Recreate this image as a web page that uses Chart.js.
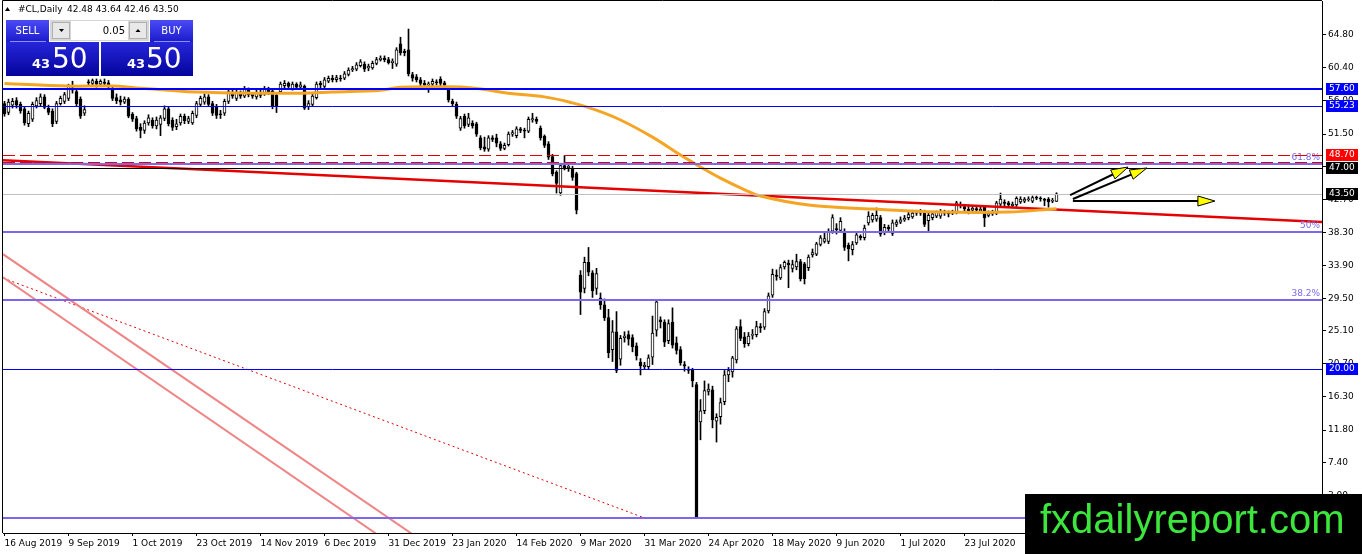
<!DOCTYPE html>
<html>
<head>
<meta charset="utf-8">
<title>#CL Daily</title>
<script src="https://cdn.jsdelivr.net/npm/chart.js@4.4.1/dist/chart.umd.min.js"></script>
<style>
  html, body { margin: 0; padding: 0; background: #fff; }
  #wrap { position: relative; width: 1362px; height: 554px; overflow: hidden; }
  canvas { display: block; }
</style>
</head>
<body>
<div id="wrap"><canvas id="chart" width="1362" height="554"></canvas></div>
<script>
// date labels, one every 16 bars
const dateLabels = ['16 Aug 2019', '9 Sep 2019', '1 Oct 2019', '23 Oct 2019', '14 Nov 2019', '6 Dec 2019',
  '31 Dec 2019', '23 Jan 2020', '14 Feb 2020', '9 Mar 2020', '31 Mar 2020', '24 Apr 2020', '18 May 2020',
  '9 Jun 2020', '1 Jul 2020', '23 Jul 2020', '14 Aug 2020'];

// price scale labels
const yTickValues = [64.80, 60.40, 56.00, 51.50, 47.10, 42.70, 38.30, 33.90, 29.50, 25.10, 20.70, 16.30, 11.80, 7.40, 3.00];

// daily candles
const opens = [
  55.6,54.4,55.4,56.0,55.5,54.9,52.9,53.5,55.3,55.6,56.5,55.0,54.6,53.2,55.6,55.9,
  56.3,57.7,57.2,56.2,54.3,58.5,58.3,58.6,58.2,58.5,58.4,57.5,56.4,56.1,55.8,56.2,
  54.2,53.6,52.4,52.0,53.0,53.4,52.6,52.8,53.6,54.9,53.4,52.5,53.0,53.9,53.2,53.0,
  54.0,55.5,55.8,56.5,55.6,55.2,54.2,54.3,55.9,57.0,56.3,57.0,56.6,57.4,56.9,56.5,
  57.0,56.9,57.5,57.3,56.7,57.2,58.0,58.3,57.6,58.2,57.8,57.9,55.2,55.5,56.4,58.3,
  57.9,58.6,59.0,58.8,59.0,59.0,59.5,60.1,60.2,60.7,60.9,60.4,60.4,61.0,61.5,61.7,
  61.5,61.1,60.9,63.6,62.6,62.8,59.5,59.2,58.8,58.3,58.1,58.2,58.5,58.9,58.4,57.4,
  55.9,55.5,52.3,53.9,52.8,53.0,52.9,51.0,49.8,49.5,51.0,51.0,50.2,49.6,50.1,51.5,
  51.3,52.2,52.0,51.9,53.4,53.5,52.3,51.2,50.2,48.5,46.4,43.6,47.3,47.0,46.9,46.2,
  32.6,30.8,34.3,32.9,30.8,29.5,28.6,26.9,22.6,25.0,21.3,24.2,24.6,24.2,23.1,20.9,
  20.3,20.3,21.6,25.2,26.6,26.3,23.8,26.3,23.5,22.6,20.6,20.0,19.9,17.9,12.9,14.4,
  17.0,17.2,13.0,13.6,15.6,19.2,19.6,21.2,25.7,24.3,23.4,24.5,24.6,25.7,25.6,27.8,
  29.9,32.6,32.2,33.7,34.2,33.5,33.7,34.4,34.1,33.6,35.3,35.4,36.7,37.1,37.1,38.5,
  38.8,38.6,38.4,36.6,36.0,36.9,37.8,37.6,39.6,40.0,40.1,40.3,38.3,39.0,38.2,39.4,
  39.7,40.0,40.3,40.4,40.9,41.0,41.0,39.9,40.3,40.5,40.5,41.0,40.9,40.9,41.0,42.1,
  41.8,41.4,41.3,41.5,41.2,41.7,40.6,40.8,40.9,42.1,42.4,42.3,41.9,42.0,42.4,42.5,
  42.7,42.5,43.0,42.9,42.8,42.8,42.5,42.48
];
const highs = [
  55.9,56.2,56.3,56.4,55.8,55.1,54.6,55.8,56.4,56.9,56.8,55.4,54.9,55.9,56.6,57.1,
  58.2,58.6,57.5,56.5,55.3,58.8,58.9,58.9,58.8,58.9,58.7,57.8,56.9,56.6,56.5,56.4,
  54.4,53.9,52.9,53.3,54.1,53.7,53.8,54.0,55.3,55.2,53.7,53.5,54.2,54.2,53.9,54.6,
  55.9,56.6,56.9,56.8,55.9,55.5,54.7,56.2,57.5,57.4,57.4,57.3,57.9,57.7,57.1,57.4,
  57.5,57.9,57.8,57.5,57.0,58.5,58.7,58.5,58.5,58.4,58.5,58.1,56.0,56.9,58.5,58.6,
  59.1,59.3,59.4,59.4,59.4,59.9,60.4,60.6,61.1,61.5,61.2,60.9,61.3,61.8,62.0,62.0,
  61.8,61.6,63.1,64.5,62.9,65.6,59.8,59.5,59.1,58.7,58.5,58.9,58.8,59.2,58.6,57.6,
  56.2,55.8,53.9,54.2,54.3,53.3,53.1,51.3,51.1,51.3,51.3,51.5,50.5,50.3,51.8,52.0,
  52.5,52.4,52.3,53.8,54.3,53.8,52.6,51.4,50.5,48.8,46.6,47.6,48.6,47.6,47.2,46.4,
  33.2,35.0,36.3,33.2,33.5,30.2,29.4,28.0,26.5,27.7,24.5,25.0,25.1,24.6,23.5,21.4,
  20.9,21.9,27.1,29.2,27.0,26.6,26.6,28.2,24.3,23.0,21.0,20.3,20.1,18.2,15.9,18.4,
  18.0,17.7,14.0,16.1,19.8,20.2,21.7,25.7,26.6,24.9,24.9,25.3,26.4,26.1,28.1,30.2,
  33.4,33.3,34.0,34.5,34.6,34.6,35.4,34.7,34.3,35.3,36.1,37.0,37.9,38.3,38.8,40.7,
  39.5,40.3,38.8,36.9,37.1,38.3,38.0,39.3,41.1,40.9,41.6,40.6,39.4,39.3,40.0,40.0,
  40.4,40.6,41.0,41.3,41.3,41.4,41.3,40.9,41.0,41.2,41.4,41.3,41.2,41.3,42.5,42.4,
  42.1,41.8,41.9,41.9,41.7,41.9,41.2,41.3,42.5,43.6,42.7,42.5,42.4,43.1,43.1,43.0,
  43.1,43.2,43.2,43.1,42.9,43.0,42.9,43.64
];
const lows = [
  53.9,54.1,55.0,55.0,54.3,52.7,52.5,53.2,55.0,55.3,54.9,54.1,52.5,52.9,55.4,55.6,
  56.0,57.0,55.3,53.6,54.0,58.0,57.9,57.8,57.9,58.0,57.6,56.0,55.6,55.4,55.6,53.7,
  53.2,51.9,51.0,51.6,52.7,52.3,52.2,51.3,53.3,52.6,52.0,52.1,52.7,52.9,52.9,52.8,
  53.7,55.2,55.5,55.2,54.0,53.6,53.6,54.0,55.6,56.3,56.0,56.3,56.4,56.5,56.3,56.2,
  56.4,56.7,56.8,54.9,54.4,57.0,57.7,57.6,57.4,57.5,57.6,54.8,54.8,55.3,56.2,57.7,
  57.7,58.4,58.5,58.5,58.6,58.8,59.3,59.9,60.0,60.5,59.9,60.0,60.2,60.8,61.3,61.2,
  60.9,60.3,60.6,62.1,62.0,59.3,58.6,58.5,58.0,57.8,57.1,57.9,58.1,58.0,57.8,55.8,
  55.3,53.6,52.0,52.3,52.5,52.3,51.2,49.4,49.2,49.2,50.5,49.8,49.3,49.4,49.9,51.2,
  51.0,51.7,51.0,51.7,53.1,52.9,50.7,49.7,48.1,45.9,43.6,43.3,46.7,46.5,45.3,40.8,
  27.3,30.2,32.5,29.6,30.0,28.0,26.5,21.5,21.0,19.5,20.5,23.6,23.2,22.3,21.2,19.2,
  19.9,19.9,20.6,24.4,25.5,23.0,23.4,22.8,22.0,20.5,19.7,19.4,17.6,0.0,10.5,14.0,
  16.5,12.1,10.2,12.6,15.2,18.3,18.9,20.8,23.8,22.9,23.1,24.0,24.3,24.9,25.3,27.5,
  29.6,31.9,32.0,33.4,30.9,33.0,33.3,31.8,31.4,33.2,35.0,35.2,36.5,36.9,36.8,38.2,
  38.1,38.3,35.9,34.5,35.3,36.7,37.3,37.3,39.3,39.7,39.8,37.8,38.0,38.4,37.9,39.1,
  39.5,39.8,40.0,40.2,40.6,40.6,39.1,38.5,40.0,40.3,40.2,40.6,40.4,40.7,40.8,41.6,
  41.2,40.8,40.9,41.0,41.0,39.1,40.4,40.6,40.7,41.9,41.9,41.7,41.6,41.8,42.2,42.3,
  42.5,42.3,42.7,42.5,41.9,41.7,42.3,42.46
];
const closes = [
  54.2,55.8,55.9,55.4,54.6,53.0,54.3,55.5,56.0,56.5,55.1,54.4,52.9,55.6,56.3,56.8,
  57.9,57.4,55.6,53.9,54.8,58.4,58.7,58.2,58.6,58.3,57.9,56.3,56.0,55.8,56.2,53.9,
  53.5,52.2,52.0,53.0,53.7,52.6,53.4,53.7,54.9,52.9,52.4,52.9,53.9,53.3,53.6,54.3,
  55.6,56.3,56.5,55.5,54.3,54.0,54.1,55.9,57.2,56.6,57.1,56.6,57.6,56.8,56.6,57.1,
  56.7,57.6,57.1,55.2,55.2,58.2,58.3,57.9,58.2,57.8,58.1,55.0,55.6,56.6,58.2,58.1,
  58.8,59.0,58.8,59.1,58.9,59.6,60.1,60.3,60.8,61.2,60.2,60.6,61.0,61.5,61.7,61.5,
  61.1,61.3,62.8,62.4,62.4,59.6,59.0,58.8,58.3,58.1,58.2,58.6,58.4,58.3,58.1,56.1,
  55.6,53.9,53.6,52.6,53.7,52.6,51.5,49.7,49.5,51.0,50.8,50.3,49.6,50.0,51.5,51.7,
  52.2,52.0,51.9,53.5,53.6,53.2,51.0,50.0,48.4,46.2,44.9,47.3,47.0,47.2,45.7,41.3,
  30.3,34.3,33.0,30.5,32.8,28.6,26.9,22.2,25.0,19.8,24.1,24.4,24.0,23.0,21.8,20.4,
  20.5,21.5,24.8,29.0,26.3,23.6,26.1,23.2,22.5,20.8,20.4,19.8,18.4,0.1,14.4,17.1,
  17.3,13.2,13.5,15.5,19.2,19.8,21.5,25.4,24.1,23.4,24.4,24.6,25.7,25.5,27.7,29.8,
  32.7,32.4,33.6,34.3,34.0,34.0,34.4,32.1,32.1,35.0,35.6,36.8,37.6,37.5,38.4,40.3,
  38.7,39.8,36.3,36.1,36.7,38.0,37.6,38.9,40.5,40.6,40.6,38.1,39.0,38.8,39.6,39.7,
  40.0,40.2,40.7,40.9,41.0,40.9,39.4,40.6,40.8,41.0,41.0,40.9,40.8,41.1,42.3,41.9,
  41.5,41.2,41.6,41.3,41.4,40.3,40.9,41.0,42.3,42.8,42.2,42.0,42.1,42.9,42.8,42.8,
  42.8,43.0,42.9,42.8,42.6,42.4,42.6,43.50
];

// moving average (bar index, price)
const maIdx = [0, 16, 27, 33, 41, 48, 62, 74, 82, 94, 99, 109, 117, 126, 135, 142, 147, 154, 162, 169, 174, 179, 184, 189, 201, 217, 234, 251, 263];
const maVal = [58.3, 57.95, 57.95, 57.7, 57.4, 57.15, 57.0, 57.0, 57.15, 57.4, 57.8, 57.85, 57.7, 57.0, 56.5, 55.7, 54.9, 53.4, 51.1, 48.7, 47.1, 45.6, 44.3, 43.2, 42.0, 41.45, 41.05, 41.05, 41.5];

// drawn objects: trend lines as [bar index, price] end points
const trendRed = [[-0.375, 48.0], [329.375, 39.7]];
const pinkUpper = [[-0.375, 35.4], [104.0, -2.9]];
const pinkLower = [[-0.375, 32.3], [95.1, -2.9]];
const dottedRed = [[-0.375, 32.2], [160.1, 0.0]];
const arrowFrom = [[266.4, 43.33], [267.1, 42.8], [267.1, 42.53]];
const arrowTo = [[280.9, 47.09], [285.6, 46.96], [302.6, 42.53]];

// horizontal levels
const levelPrices = [57.60, 55.23, 48.70, 47.76, 47.00, 43.50, 20.00];
const fibPrices = [47.43, 38.37, 29.31, 0.0];
const fibNames = ['61.8%', '50%', '38.2%', '0%'];
const tagPrices = [57.60, 55.23, 48.70, 47.00, 43.50, 20.00];

const levelStyles = [
  { color: '#0000ff', width: 2 },
  { color: '#0000ff', width: 1 },
  { color: '#e00000', width: 1, dash: [12, 5] },
  { color: '#e00000', width: 1, dash: [12, 5] },
  { color: '#000000', width: 1 },
  { color: '#c0c0c0', width: 1 },
  { color: '#0000ff', width: 1 }
];
const tagColors = ['#0000ff', '#0000ff', '#ff0000', '#000000', '#000000', '#0000ff'];

const FONT = '"DejaVu Sans", Tahoma, sans-serif';
Chart.defaults.font.family = FONT;
Chart.defaults.font.size = 9;
Chart.defaults.color = '#000';

const toPts = arr => arr.map(p => ({ x: p[0], y: p[1] }));
const last = closes.length - 1;

function hLine(ctx, a, py, w) {
  const yy = w % 2 === 1 ? Math.round(py) + 0.5 : Math.round(py);
  ctx.beginPath();
  ctx.moveTo(a.left, yy);
  ctx.lineTo(a.right, yy);
  ctx.stroke();
}

function grad(ctx, y0, y1, c0, c1) {
  const g = ctx.createLinearGradient(0, y0, 0, y1);
  g.addColorStop(0, c0);
  g.addColorStop(1, c1);
  return g;
}

function tri(ctx, pts, fill, stroke) {
  ctx.beginPath();
  ctx.moveTo(pts[0][0], pts[0][1]);
  ctx.lineTo(pts[1][0], pts[1][1]);
  ctx.lineTo(pts[2][0], pts[2][1]);
  ctx.closePath();
  ctx.fillStyle = fill;
  ctx.fill();
  if (stroke) { ctx.strokeStyle = stroke; ctx.lineWidth = 1; ctx.stroke(); }
}

// keep the plot area edge to edge: no extra room for half tick labels
function noPad(s) {
  s.paddingTop = 0;
  s.paddingBottom = 0;
  s.paddingLeft = 0;
  s.paddingRight = 0;
}

const overlay = {
  id: 'overlay',
  afterDatasetsDraw(chart) {
    const { ctx, chartArea: a, scales: { x, y } } = chart;
    ctx.save();
    ctx.beginPath();
    ctx.rect(a.left, a.top, a.right - a.left, a.bottom - a.top);
    ctx.clip();

    // fibonacci levels
    fibPrices.forEach((p, k) => {
      const py = y.getPixelForValue(p);
      ctx.strokeStyle = '#7b68ee';
      ctx.lineWidth = 2;
      ctx.setLineDash([]);
      hLine(ctx, a, py, 2);
      ctx.fillStyle = '#7b68ee';
      ctx.font = '9px ' + FONT;
      ctx.textAlign = 'right';
      ctx.textBaseline = 'bottom';
      ctx.fillText(fibNames[k], a.right - 2, Math.round(py) - 2);
    });

    // horizontal lines
    levelPrices.forEach((p, k) => {
      const st = levelStyles[k];
      ctx.strokeStyle = st.color;
      ctx.lineWidth = st.width;
      ctx.setLineDash(st.dash || []);
      hLine(ctx, a, y.getPixelForValue(p), st.width);
    });
    ctx.setLineDash([]);

    // arrows
    arrowFrom.forEach((f, k) => {
      const t = arrowTo[k];
      const x0 = x.getPixelForValue(f[0]), y0 = y.getPixelForValue(f[1]);
      const x1 = x.getPixelForValue(t[0]), y1 = y.getPixelForValue(t[1]);
      const ang = Math.atan2(y1 - y0, x1 - x0);
      ctx.strokeStyle = '#000';
      ctx.lineWidth = 2;
      ctx.beginPath();
      ctx.moveTo(x0, y0);
      ctx.lineTo(x1 - 8 * Math.cos(ang), y1 - 8 * Math.sin(ang));
      ctx.stroke();
      const len = 17, hw = 5;
      const bx = x1 - len * Math.cos(ang), by = y1 - len * Math.sin(ang);
      const nx = -Math.sin(ang) * hw, ny = Math.cos(ang) * hw;
      tri(ctx, [[x1, y1], [bx + nx, by + ny], [bx - nx, by - ny]], '#ffff00', '#000');
    });
    ctx.restore();
  },
  afterDraw(chart) {
    const { ctx, chartArea: a, scales: { y } } = chart;
    ctx.save();

    // frame left and top
    ctx.strokeStyle = '#000';
    ctx.lineWidth = 1;
    ctx.beginPath();
    ctx.moveTo(a.left - 0.5, a.bottom);
    ctx.lineTo(a.left - 0.5, a.top - 0.5);
    ctx.lineTo(a.right, a.top - 0.5);
    ctx.stroke();

    // price tags on the axis
    ctx.font = '9px ' + FONT;
    ctx.textAlign = 'left';
    ctx.textBaseline = 'middle';
    tagPrices.forEach((p, k) => {
      const py = Math.round(y.getPixelForValue(p));
      ctx.fillStyle = tagColors[k];
      ctx.fillRect(a.right + 4, py - 6, 32, 12);
      ctx.fillStyle = '#fff';
      ctx.fillText(p.toFixed(2), a.right + 7, py);
    });

    // header
    tri(ctx, [[5, 11], [10, 11], [7.5, 7]], '#000');
    ctx.fillStyle = '#000';
    ctx.font = '9px ' + FONT;
    ctx.textAlign = 'left';
    ctx.textBaseline = 'middle';
    ctx.fillText('#CL,Daily', 18, 10);
    ctx.fillText([opens[last], highs[last], lows[last], closes[last]].map(v => v.toFixed(2)).join(' '), 67, 10);

    // one click trading panel
    const bid = closes[last].toFixed(2).split('.');
    ctx.fillStyle = grad(ctx, 20, 42, '#4a4af6', '#1b1bcc');
    ctx.fillRect(6, 20, 43, 22);
    ctx.fillRect(150, 20, 43, 22);
    ctx.fillStyle = grad(ctx, 42, 76, '#2626da', '#04049c');
    ctx.fillRect(6, 42, 93, 34);
    ctx.fillRect(101, 42, 92, 34);
    ctx.strokeStyle = 'rgba(170,170,255,0.8)';
    ctx.beginPath();
    ctx.moveTo(10, 41.5); ctx.lineTo(46, 41.5);
    ctx.moveTo(154, 41.5); ctx.lineTo(190, 41.5);
    ctx.stroke();
    ctx.fillStyle = '#d6d6d6';
    ctx.fillRect(50, 20, 99, 21);
    ctx.fillStyle = '#fff';
    ctx.fillRect(71, 21, 57, 19);
    ctx.fillStyle = '#e8e8e8';
    ctx.fillRect(52, 22, 18, 17);
    ctx.fillRect(129, 22, 18, 17);
    ctx.strokeStyle = '#b0b0b0';
    ctx.strokeRect(52.5, 22.5, 17, 16);
    ctx.strokeRect(129.5, 22.5, 17, 16);
    tri(ctx, [[59, 29], [64, 29], [61.5, 32]], '#000');
    tri(ctx, [[135.5, 32], [140.5, 32], [138, 29]], '#000');
    ctx.fillStyle = '#000';
    ctx.font = '10px ' + FONT;
    ctx.textAlign = 'right';
    ctx.fillText('0.05', 125, 31);
    ctx.fillStyle = '#fff';
    ctx.textAlign = 'center';
    ctx.fillText('SELL', 27.5, 31);
    ctx.fillText('BUY', 171.5, 31);
    ctx.textBaseline = 'alphabetic';
    ctx.font = 'bold 13px ' + FONT;
    ctx.textAlign = 'right';
    ctx.fillText(bid[0], 50, 68);
    ctx.fillText(bid[0], 145, 68);
    ctx.font = '28px ' + FONT;
    ctx.textAlign = 'left';
    ctx.fillText(bid[1], 52, 68);
    ctx.fillText(bid[1], 146, 68);

    // watermark
    ctx.fillStyle = '#000';
    ctx.fillRect(1025, 494, 337, 60);
    ctx.fillStyle = '#3ce63c';
    ctx.font = '40px "Liberation Sans", Arial, sans-serif';
    ctx.textAlign = 'left';
    ctx.textBaseline = 'alphabetic';
    ctx.fillText('fxdailyreport.com', 1040, 533);
    ctx.restore();
  }
};

new Chart(document.getElementById('chart'), {
  type: 'bar',
  data: {
    datasets: [
      {
        type: 'line',
        data: maIdx.map((v, k) => ({ x: v, y: maVal[k] })),
        borderColor: '#f5a524',
        borderWidth: 3,
        pointRadius: 0,
        tension: 0.4,
        order: 0
      },
      {
        type: 'line',
        data: toPts(trendRed),
        borderColor: '#e60000',
        borderWidth: 2.5,
        pointRadius: 0,
        order: 0
      },
      {
        type: 'line',
        data: toPts(pinkUpper),
        borderColor: '#ef8585',
        borderWidth: 2,
        pointRadius: 0,
        order: 0
      },
      {
        type: 'line',
        data: toPts(pinkLower),
        borderColor: '#ef8585',
        borderWidth: 2,
        pointRadius: 0,
        order: 0
      },
      {
        type: 'line',
        data: toPts(dottedRed),
        borderColor: '#e00000',
        borderWidth: 1,
        borderDash: [2, 3],
        pointRadius: 0,
        order: 0
      },
      {
        // candle bodies
        data: opens.map((o, i) => ({ x: i, y: [o, closes[i]] })),
        backgroundColor: ctx => closes[ctx.dataIndex] >= opens[ctx.dataIndex] ? '#ffffff' : '#000000',
        borderColor: '#000',
        borderWidth: 1,
        borderSkipped: false,
        barThickness: 3,
        minBarLength: 1,
        grouped: false,
        order: 1
      },
      {
        // wicks
        data: lows.map((l, i) => ({ x: i, y: [l, highs[i]] })),
        backgroundColor: '#000',
        borderWidth: 0,
        barThickness: 1,
        minBarLength: 1,
        grouped: false,
        order: 2
      }
    ]
  },
  options: {
    responsive: false,
    animation: false,
    events: [],
    layout: { padding: { left: 3, top: 1, right: 0, bottom: 0 } },
    plugins: {
      legend: { display: false },
      tooltip: { enabled: false },
      title: { display: false }
    },
    scales: {
      x: {
        type: 'linear',
        min: -0.375,
        max: 329.375,
        offset: false,
        afterFit: s => { s.height = 21; noPad(s); },
        afterBuildTicks: s => { s.ticks = dateLabels.map((_, k) => ({ value: k * 16 })); },
        ticks: {
          autoSkip: false,
          maxRotation: 0,
          align: 'start',
          padding: 2,
          color: '#000',
          callback: v => dateLabels[v / 16] || ''
        },
        grid: { drawOnChartArea: false, drawTicks: true, tickLength: 3, color: '#000', offset: false },
        border: { display: true, color: '#000' }
      },
      y: {
        position: 'right',
        min: -2.0,
        max: 69.36,
        afterFit: s => { s.width = 40; noPad(s); },
        afterBuildTicks: s => { s.ticks = yTickValues.map(v => ({ value: v })); },
        ticks: { padding: 2, color: '#000', callback: v => v.toFixed(2) },
        grid: { drawOnChartArea: false, drawTicks: true, tickLength: 4, color: '#000' },
        border: { display: true, color: '#000' }
      }
    }
  },
  plugins: [overlay]
});
</script>
</body>
</html>
